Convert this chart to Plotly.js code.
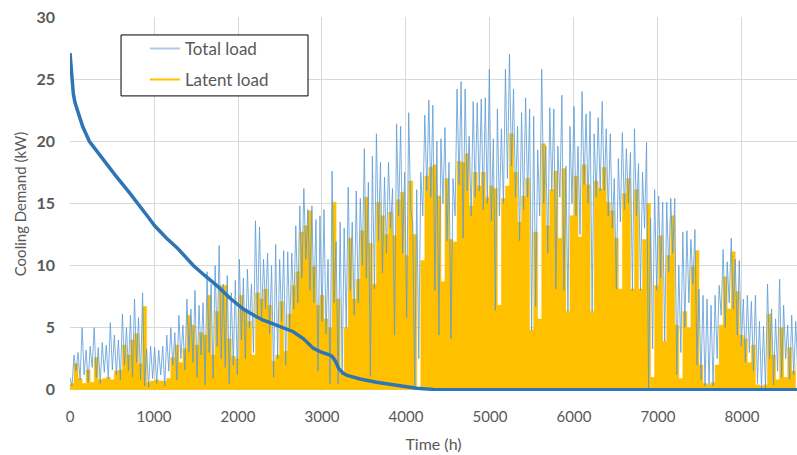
<!DOCTYPE html>
<html>
<head>
<meta charset="utf-8">
<script src="https://cdn.plot.ly/plotly-3.0.1.min.js"></script>
<style>html,body{margin:0;padding:0;background:#fff;}#chart{width:797px;height:455px;}</style>
</head>
<body>
<div id="chart"></div>
<script>
// Hourly cooling demand, every 48 h (peak of the spike, then the trough 24 h later)
const STEP_HOURS = 48;

const totalPeak = [
  1.0, 2.8, 3.0, 5.0, 3.2, 3.5, 5.0, 3.4, 3.8, 3.6, 5.4, 4.4, 4.0, 6.1, 5.0, 6.0, 7.3, 5.8, 7.8, 3.3, 3.5,
  3.4, 3.2, 3.5, 4.4, 5.0, 4.6, 6.0, 5.2, 7.3, 6.5, 8.0, 6.8, 7.0, 9.5, 8.5, 10.0, 11.6, 8.5, 9.2, 7.8, 8.8,
  10.5, 9.0, 9.7, 8.5, 13.6, 13.1, 10.5, 11.0, 10.0, 11.7, 10.5, 11.2, 11.1, 11.0, 13.2, 14.8, 16.2, 14.5, 14.8, 13.7,
  14.0, 14.5, 10.5, 17.6, 11.9, 13.5, 13.0, 16.3, 13.5, 16.0, 15.4, 19.4,
  16.7, 18.8, 20.6, 18.3, 17.1, 18.3, 16.2, 21.4, 21.2, 17.5, 22.3, 13.5, 16.1, 17.5, 22.1, 23.3, 22.9, 20.0, 20.2, 21.1,
  18.3, 17.0, 24.2, 24.8, 24.2, 20.4, 23.2, 23.1, 23.4, 23.5, 25.8, 20.2, 22.6, 21.0, 25.8, 27.0, 24.2,
  21.2, 22.3, 23.5, 22.6, 22.0, 19.3, 25.8, 19.6, 22.7, 22.6, 19.6, 23.7, 18.0, 21.2, 22.8, 19.6, 24.0, 22.2, 22.4, 20.6,
  21.9, 23.2, 21.0, 20.6, 17.0, 18.6, 20.7, 19.4, 19.1, 21.0, 18.2, 17.5, 19.9, 13.8, 16.1, 15.6, 15.1,
  15.1, 15.4, 15.4, 10.0, 12.7, 12.8, 12.1, 12.9, 8.1, 7.6, 7.3, 6.8, 7.6, 8.4, 11.3, 10.3, 12.2, 10.5, 10.4, 7.3,
  7.6, 7.1, 7.6, 5.5, 5.1, 8.5, 6.5, 5.7, 8.9, 6.8, 5.2, 6.0, 5.5
];

const totalLow = [
  0.3, 1.5, 0.8, 1.2, 0.6, 1.8, 1.0, 0.5, 1.4, 0.9, 1.6, 1.2, 0.8, 2.0, 1.5, 1.0, 2.2, 0.8, 0.3, 0.2, 0.9,
  0.5, 1.2, 0.3, 1.5, 2.0, 0.8, 2.5, 1.6, 3.0, 2.2, 1.0, 2.8, 0.4, 3.0, 0.9, 3.5, 2.5, 1.8, 0.5, 2.0, 1.2,
  4.0, 2.5, 5.0, 3.0, 6.0, 5.5, 6.5, 4.5, 1.0, 2.5, 5.5, 2.0, 5.0, 6.5, 7.0, 9.0, 10.5, 8.0, 7.0, 1.5,
  5.5, 4.5, 0.5, 7.0, 0.5, 1.2, 5.0, 8.0, 6.0, 7.0, 10.0, 9.0,
  1.1, 8.1, 12.0, 9.4, 11.0, 13.0, 4.4, 14.0, 11.0, 5.8, 14.5, 0.1, 2.5, 14.0, 16.0, 15.5, 8.0, 4.4, 15.0, 12.0,
  4.1, 14.0, 16.5, 12.2, 16.0, 14.0, 15.5, 16.0, 14.5, 15.0, 13.6, 6.4, 14.0, 15.0, 17.0, 18.0, 15.5, 12.0, 14.5, 15.5,
  4.8, 6.7, 14.0, 15.0, 11.0, 16.0, 8.1, 15.5, 8.0, 6.3, 15.0, 14.0, 12.5, 16.5, 15.0, 6.3, 15.5, 16.0, 16.0, 14.0,
  13.0, 8.1, 13.5, 14.5, 15.0, 8.0, 14.0, 8.0, 13.0, 0.1,
  3.3, 8.0, 9.0, 3.9, 9.5, 11.0, 1.2, 3.0, 5.0, 7.0, 8.5, 2.0, 0.8, 0.3, 0.4, 0.3, 2.5, 6.0, 5.0, 7.0,
  6.5, 4.4, 3.5, 2.2, 3.0, 1.5, 0.5, 0.1, 0.1, 2.5, 0.4, 1.5, 1.0, 2.5, 0.8, 1.2, 1.5
];

const latentLoad = [
  0.5, 2.1, 0.9, 0.5, 1.6, 0.6, 2.6, 0.8, 0.9, 1.0, 0.8, 1.5, 1.6, 3.6, 2.8, 4.0, 4.5, 2.1, 6.7, 0.6, 0.7,
  0.8, 0.7, 0.7, 0.9, 2.6, 3.6, 2.2, 3.3, 6.0, 5.2, 3.6, 4.6, 4.4, 7.6, 2.8, 6.3, 8.4, 8.4, 4.1, 2.7, 2.5,
  7.6, 6.5, 5.5, 2.8, 7.8, 7.3, 8.1, 6.8, 2.3, 2.8, 7.1, 3.1, 6.1, 8.4, 9.5, 12.7, 13.2, 14.4, 9.9, 6.8,
  7.6, 5.7, 5.0, 15.1, 7.3, 1.5, 5.0, 12.2, 7.3, 8.9, 12.8, 15.5,
  11.8, 8.5, 15.1, 14.0, 12.5, 14.3, 12.4, 15.3, 15.9, 10.8, 16.8, 12.5, 0.1, 10.4, 17.2, 17.9, 18.1, 15.6, 8.7, 17.0,
  12.1, 11.9, 18.4, 18.3, 19.0, 14.8, 17.5, 16.4, 17.5, 15.5, 16.4, 16.2, 6.8, 15.4, 16.4, 20.6, 17.5,
  13.5, 15.6, 17.0, 4.8, 12.7, 5.7, 19.8, 13.2, 16.1, 17.6, 12.2, 17.8, 6.3, 14.0, 17.2, 12.3, 18.1, 16.5, 6.3, 16.8,
  16.2, 17.9, 15.1, 14.4, 12.2, 8.1, 15.8, 17.0, 8.1, 16.1, 8.1, 12.1, 15.0, 1.0, 8.4, 12.4, 3.9,
  10.8, 14.0, 5.2, 0.9, 6.3, 5.0, 9.9, 11.2, 2.0, 0.5, 0.4, 0.6, 2.0, 5.2, 9.1, 6.5, 11.1, 7.9, 4.4, 4.1,
  2.2, 3.6, 0.4, 0.3, 0.4, 6.1, 2.8, 0.8, 5.0, 1.0, 3.4, 1.5, 2.2
];

// Sorted (duration) curve of the total load
const durationHours = [0, 10, 24, 40, 60, 107, 150, 230, 397, 536, 714, 774, 930, 1008, 1150, 1286, 1468, 1603, 1762, 1900, 2063, 2200, 2300, 2380, 2520, 2659, 2780, 2897, 3000, 3095, 3125, 3160, 3200, 3254, 3300, 3350, 3452, 3650, 3849, 4000, 4127, 4325, 4600, 8655];
const durationKW    = [27.1, 26.0, 25.0, 23.8, 23.1, 22.0, 21.2, 20.0, 18.5, 17.3, 15.8, 15.3, 13.9, 13.2, 12.2, 11.35, 10.0, 9.2, 8.3, 7.4, 6.5, 5.95, 5.6, 5.4, 5.05, 4.67, 4.1, 3.33, 3.0, 2.8, 2.65, 2.3, 1.7, 1.32, 1.15, 1.05, 0.87, 0.6, 0.39, 0.24, 0.12, 0.03, 0, 0];

const xTicks = [0, 1000, 2000, 3000, 4000, 5000, 6000, 7000, 8000];
const yTicks = [0, 5, 10, 15, 20, 25, 30];

// build series
const latentX = latentLoad.map((v, i) => i * STEP_HOURS);
const totX = [], totY = [];
totalPeak.forEach((p, i) => {
  totX.push(i * STEP_HOURS); totY.push(p);
  totX.push(i * STEP_HOURS + STEP_HOURS / 2); totY.push(totalLow[i]);
});

const traces = [
  {x: latentX, y: latentLoad, type: 'scatter', mode: 'lines', line: {color: '#FFC000', width: 0.5, shape: 'hv'},
   fill: 'tozeroy', fillcolor: '#FFC000', showlegend: false, hoverinfo: 'skip'},
  {x: totX, y: totY, type: 'scatter', mode: 'lines', line: {color: 'rgba(91,155,213,0.8)', width: 1},
   showlegend: false, hoverinfo: 'skip'},
  {x: durationHours, y: durationKW, type: 'scatter', mode: 'lines', line: {color: '#2E75B6', width: 3.5},
   showlegend: false, hoverinfo: 'skip'},
  {x: [null], y: [null], type: 'scatter', mode: 'lines', name: 'Total load', legendgroup: 'a',
   line: {color: '#A9CBEA', width: 2}},
  {x: [null], y: [null], type: 'scatter', mode: 'lines', name: 'Latent load', legendgroup: 'b',
   line: {color: '#FFC000', width: 2}}
];

const FONT = 'Lato, "Open Sans", "DejaVu Sans", sans-serif';
const layout = {
  width: 797, height: 455,
  margin: {l: 70, r: 0, t: 17, b: 64},
  paper_bgcolor: '#fff', plot_bgcolor: '#fff',
  font: {family: FONT, color: '#595959'},
  xaxis: {
    range: [0, 8655], tickvals: xTicks, showgrid: true, gridcolor: '#D9D9D9', gridwidth: 1,
    zeroline: false, showline: false, ticks: '', ticklabelstandoff: 15,
    tickfont: {family: FONT, size: 15, color: '#595959'},
    title: {text: 'Time (h)', font: {family: FONT, size: 16, color: '#595959'}, standoff: 14}
  },
  yaxis: {
    range: [-0.1, 30], tickvals: yTicks, showgrid: true, gridcolor: '#D9D9D9', gridwidth: 1,
    zeroline: false, showline: false, ticks: '', ticklabelstandoff: 14,
    tickfont: {family: FONT, size: 16, color: '#595959', weight: 'bold'},
    title: {text: 'Cooling Demand (kW)', font: {family: FONT, size: 15, color: '#595959'}, standoff: 6}
  },
  showlegend: true,
  legend: {x: 0.103, y: 0.963, xanchor: 'left', yanchor: 'top', bgcolor: 'rgba(0,0,0,0)', borderwidth: 0,
           font: {family: FONT, size: 17, color: '#595959'}, traceorder: 'grouped', tracegroupgap: 6},
  shapes: [{type: 'rect', xref: 'paper', yref: 'paper', x0: 0.0702, x1: 0.3274, y0: 0.789, y1: 0.952,
            line: {color: '#000', width: 1}, fillcolor: '#fff', layer: 'above'}]
};

Plotly.newPlot('chart', traces, layout, {staticPlot: true, displayModeBar: false});
</script>
</body>
</html>
